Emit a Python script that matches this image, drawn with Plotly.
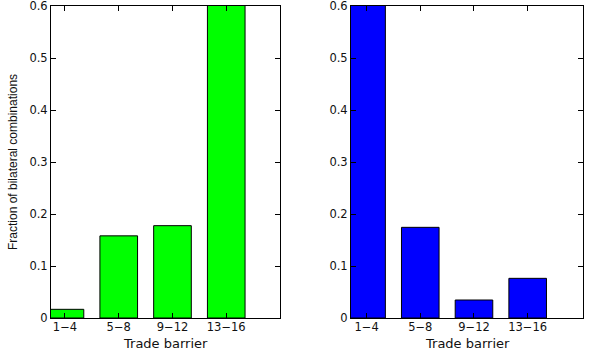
import plotly.graph_objects as go
from plotly.subplots import make_subplots

categories = ["1−4", "5−8", "9−12", "13−16"]
positions = [1, 2, 3, 4]
left_values = [0.0167, 0.158, 0.1776, 0.648]
right_values = [0.715, 0.1744, 0.0346, 0.0763]
y_ticks = [0, 0.1, 0.2, 0.3, 0.4, 0.5, 0.6]
y_ticktext = ["0", "0.1", "0.2", "0.3", "0.4", "0.5", "0.6"]
x_title = "Trade barrier"
y_title = "Fraction of bilateral combinations"

fig = make_subplots(rows=1, cols=2)
fig.add_trace(go.Bar(x=positions, y=left_values, width=0.7,
                     marker=dict(color="#00FF00", line=dict(color="black", width=1))),
              row=1, col=1)
fig.add_trace(go.Bar(x=positions, y=right_values, width=0.7,
                     marker=dict(color="#0000FF", line=dict(color="black", width=1))),
              row=1, col=2)

font = "DejaVu Sans, sans-serif"
axis_common = dict(showline=True, linecolor="black", linewidth=1, mirror="ticks",
                   ticks="inside", ticklen=5, tickcolor="black", showgrid=False,
                   zeroline=False, ticklabeloverflow="allow",
                   tickfont=dict(family=font, size=11.5, color="#111"))

fig.update_layout(
    width=600, height=353, showlegend=False,
    paper_bgcolor="white", plot_bgcolor="white",
    margin=dict(l=0, r=0, t=6, b=35, autoexpand=False),
    xaxis=dict(domain=[51/600, 280/600], range=[0.74, 5.0],
               tickvals=positions, ticktext=categories, ticklabelstandoff=-2,
               **axis_common),
    xaxis2=dict(domain=[351/600, 583/600], range=[0.71, 5.03],
                tickvals=positions, ticktext=categories, ticklabelstandoff=-2,
                **axis_common),
    yaxis=dict(range=[0, 0.6001], tickvals=y_ticks, ticktext=y_ticktext,
               title=dict(text=y_title, standoff=9,
                          font=dict(family="Liberation Sans, Arial, sans-serif",
                                    size=12, color="#111")),
               **axis_common),
    yaxis2=dict(range=[0, 0.6001], tickvals=y_ticks, ticktext=y_ticktext,
                **axis_common),
)

for xd in ([51/600, 280/600], [351/600, 583/600]):
    fig.add_annotation(text=x_title, xref="paper", yref="paper",
                       x=(xd[0] + xd[1]) / 2, y=-(343 - 318) / 312,
                       xanchor="center", yanchor="middle", showarrow=False,
                       font=dict(family=font, size=13, color="#111"))

fig.write_html("out.html")
